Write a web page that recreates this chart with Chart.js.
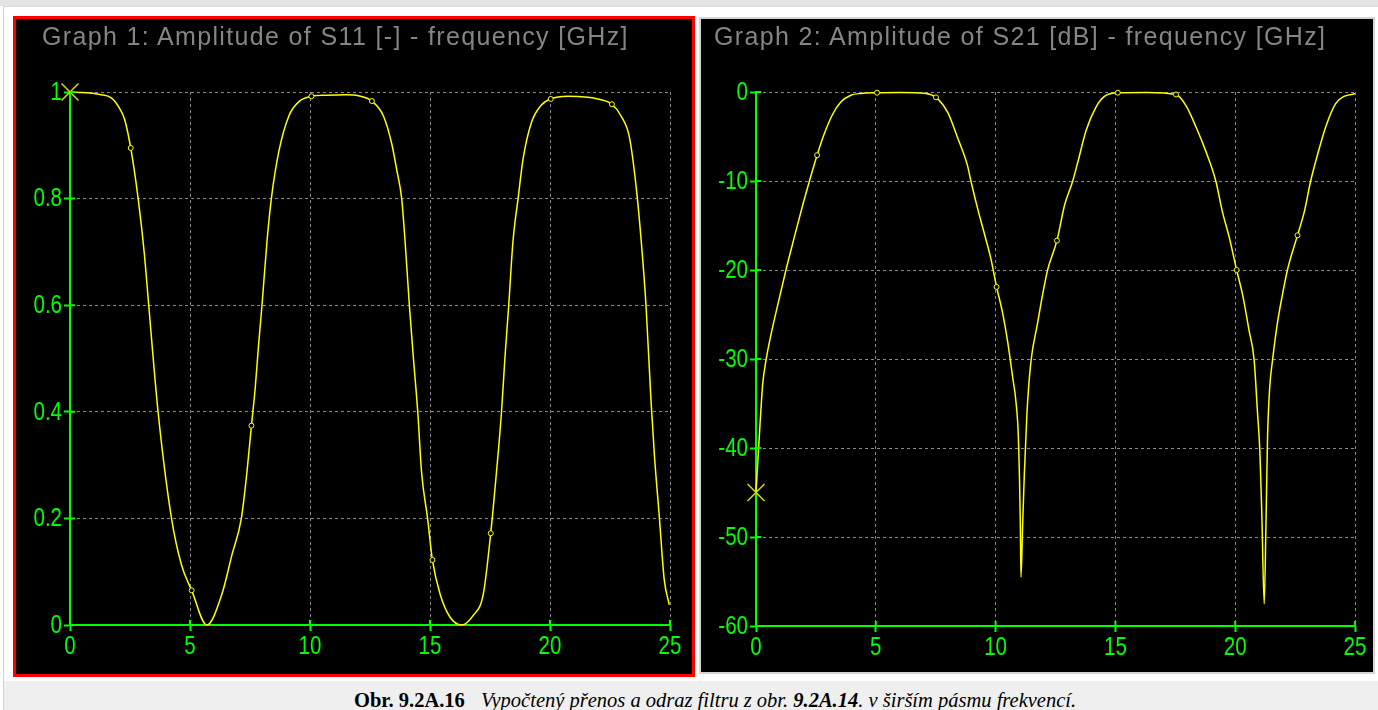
<!DOCTYPE html>
<html>
<head>
<meta charset="utf-8">
<script src="https://cdn.jsdelivr.net/npm/chart.js@4.4.1/dist/chart.umd.min.js"></script>
<style>
  body { margin: 0; width: 1378px; height: 710px; overflow: hidden; background: #fff; position: relative; }
  #topband { position: absolute; left: 0; top: 0; width: 1378px; height: 6px; background: #e4e4e4; }
  #frame { position: absolute; left: 3px; top: 6px; width: 1375px; height: 704px; border-left: 1px solid #d2d2d2; border-top: 1px solid #d8d8d8; background: #fff; }
  #panel1 { position: absolute; left: 13px; top: 16px; width: 676px; height: 655px; border: 3px solid #ff0000; background: #000; }
  #panel2 { position: absolute; left: 699px; top: 17px; width: 672px; height: 653px; border: 2px solid #d4d4d4; background: #000; }
  .title { position: absolute; top: 21px; font: 25px/30px "Liberation Sans", Arial, sans-serif; letter-spacing: 1.35px; color: #858585; white-space: nowrap; }
  #capbg { position: absolute; left: 4px; top: 681px; width: 1374px; height: 29px; background: #efefef; }
  #caption { position: absolute; left: 354px; top: 689px; font: 20.5px/22px "Liberation Serif", "Times New Roman", serif; color: #000; white-space: nowrap; }
  canvas { display: block; }
</style>
</head>
<body>
<div id="topband"></div>
<div id="frame"></div>
<div id="panel1"><canvas id="graph1" width="676" height="655"></canvas></div>
<div id="panel2"><canvas id="graph2" width="672" height="653"></canvas></div>
<div class="title" style="left:42px">Graph 1: Amplitude of S11 [-] - frequency [GHz]</div>
<div class="title" style="left:714px">Graph 2: Amplitude of S21 [dB] - frequency [GHz]</div>
<div id="capbg"></div>
<div id="caption"><b>Obr. 9.2A.16</b><i style="margin-left:16px">Vypočtený přenos a odraz filtru z obr. <b>9.2A.14</b>. v širším pásmu frekvencí.</i></div>

<script>
// Graph 1: |S11| vs frequency
const s11Freq = [0, 1.3, 1.72, 2.07, 2.28, 2.53, 2.84, 3.09, 3.28, 3.67, 4.23, 4.65, 5.07, 5.7, 6.33,
  6.75, 7.14, 7.37, 7.56, 7.72, 7.86, 8.0, 8.21, 8.39, 8.7, 9.12, 9.54, 10.06, 10.66, 11.5,
  12.02, 12.58, 13.06, 13.41, 13.61, 13.82, 13.96, 14.14, 14.31, 14.49, 14.65, 14.9, 15.1, 15.42, 15.83,
  16.32, 16.8, 17.22, 17.53, 17.7, 17.98, 18.12, 18.28, 18.46, 18.67, 18.88, 19.22, 19.63, 20.03, 20.75,
  21.58, 21.99, 22.58, 22.96, 23.31, 23.59, 23.8, 24.0, 24.21, 24.35, 24.56, 24.76, 24.97];
const s11Amp = [1.0, 0.995, 0.989, 0.969, 0.948, 0.895, 0.8, 0.7, 0.6, 0.4, 0.2, 0.112, 0.065, 0.0, 0.058,
  0.132, 0.2, 0.286, 0.374, 0.446, 0.527, 0.6, 0.721, 0.8, 0.888, 0.955, 0.982, 0.992, 0.994, 0.995,
  0.993, 0.983, 0.955, 0.902, 0.855, 0.8, 0.721, 0.6, 0.5, 0.4, 0.286, 0.2, 0.122, 0.058, 0.015,
  0.0, 0.018, 0.058, 0.172, 0.252, 0.4, 0.5, 0.6, 0.721, 0.8, 0.875, 0.942, 0.975, 0.987, 0.992,
  0.99, 0.987, 0.977, 0.955, 0.915, 0.822, 0.721, 0.6, 0.42, 0.319, 0.2, 0.085, 0.038];
const s11MarkFreq = [2.53, 5.07, 7.56, 10.06, 12.58, 15.1, 17.53, 20.03, 22.58];
const s11MarkAmp = [0.895, 0.065, 0.374, 0.992, 0.983, 0.122, 0.172, 0.987, 0.977];

// Graph 2: S21 in dB vs frequency
const s21Freq = [0, 0.1, 0.18, 0.28, 0.42, 0.63, 0.9, 1.25, 1.6, 1.95, 2.23, 2.55, 2.85, 3.2, 3.55,
  3.96, 4.38, 5.05, 6.0, 7.09, 7.51, 8.0, 8.41, 8.83, 8.97, 9.25, 9.53, 9.81, 10.04, 10.29,
  10.5, 10.71, 10.85, 10.95, 11.03, 11.06, 11.13, 11.2, 11.31, 11.47, 11.75, 11.96, 12.17, 12.56, 12.88,
  13.22, 13.43, 13.78, 14.19, 14.54, 15.1, 16.3, 17.53, 17.94, 18.36, 18.78, 19.19, 19.47, 19.75, 20.06,
  20.31, 20.58, 20.79, 20.93, 21.03, 21.11, 21.21, 21.28, 21.35, 21.44, 21.56, 21.76, 21.97, 22.18, 22.6,
  22.88, 23.15, 23.43, 23.78, 24.19, 24.54, 25.0];
const s21Db = [-45, -40.4, -36.8, -32.8, -30.1, -27.2, -24.0, -20, -16.3, -12.7, -10, -7.1, -4.7, -2.5, -1.1,
  -0.36, -0.16, -0.08, -0.05, -0.16, -0.6, -2.3, -5.1, -8.3, -10, -13.1, -15.9, -18.8, -21.9, -24.8,
  -28, -32, -34.8, -38.8, -48.1, -54.5, -48.5, -42.9, -36, -30.4, -26, -22.8, -20, -16.7, -12.7,
  -10, -7.9, -4.3, -1.7, -0.5, -0.08, -0.05, -0.28, -1.5, -3.9, -6.7, -10, -13.5, -16.3, -20,
  -22.8, -26.8, -30.1, -36, -40.4, -47.3, -57.5, -49.3, -38.8, -33.2, -30.1, -26, -22.8, -20, -16.1,
  -13.5, -10, -7.1, -3.9, -1.3, -0.5, -0.2];
const s21MarkFreq = [2.55, 5.05, 7.51, 10.04, 12.56, 15.1, 17.53, 20.06, 22.6];
const s21MarkDb = [-7.1, -0.08, -0.6, -21.9, -16.7, -0.08, -0.28, -20, -16.1];

const GREEN = '#00ff00';
const YELLOW = '#ffff00';
const GRID = '#8a8a8a';

function pts(xs, ys) {
  return xs.map((x, i) => ({ x: x, y: ys[i] }));
}

function fmt(v) {
  return String(Math.round(v * 10) / 10);
}

// narrow green tick labels (Liberation Sans squeezed sideways)
function drawLabel(ctx, text, x, y, align) {
  ctx.save();
  ctx.translate(x, y);
  ctx.scale(0.82, 1);
  ctx.textAlign = align;
  ctx.fillText(text, 0, 0);
  ctx.restore();
}

// tick labels + the part of each tick mark that pokes into the plot
const axisDecor = {
  id: 'axisDecor',
  afterDraw(chart) {
    const ctx = chart.ctx, a = chart.chartArea;
    const sx = chart.scales.x, sy = chart.scales.y;
    ctx.save();
    ctx.strokeStyle = GREEN;
    ctx.lineWidth = 2;
    ctx.beginPath();
    sx.ticks.forEach(t => { const p = sx.getPixelForValue(t.value); ctx.moveTo(p, a.bottom); ctx.lineTo(p, a.bottom - 5); });
    sy.ticks.forEach(t => { const p = sy.getPixelForValue(t.value); ctx.moveTo(a.left, p); ctx.lineTo(a.left + 5, p); });
    ctx.stroke();
    ctx.fillStyle = GREEN;
    ctx.font = '25px "Liberation Sans", Arial, sans-serif';
    ctx.textBaseline = 'middle';
    sx.ticks.forEach(t => drawLabel(ctx, fmt(t.value), sx.getPixelForValue(t.value), a.bottom + 22, 'center'));
    sy.ticks.forEach(t => drawLabel(ctx, fmt(t.value), a.left - 8, sy.getPixelForValue(t.value) + 1, 'right'));
    ctx.restore();
  }
};

function gridColor(c) {
  return c.index === 0 ? 'rgba(0,0,0,0)' : GRID;
}

function makeChart(id, xs, ys, mx, my, yMin, yMax, yStep, yWidth, padRight, xHeight) {
  return new Chart(document.getElementById(id), {
    type: 'line',
    data: {
      datasets: [
        {
          data: [{ x: xs[0], y: ys[0] }],
          showLine: false,
          pointStyle: 'crossRot',
          pointRadius: 12,
          pointBorderWidth: 1.5,
          pointBorderColor: '#d8d800',
          clip: false
        },
        {
          data: pts(mx, my),
          showLine: false,
          pointRadius: 2.5,
          pointBorderWidth: 1,
          pointBorderColor: YELLOW,
          pointBackgroundColor: '#000',
          clip: false
        },
        {
          data: pts(xs, ys),
          borderColor: YELLOW,
          borderWidth: 1.5,
          pointRadius: 0,
          cubicInterpolationMode: 'monotone',
          clip: false
        }
      ]
    },
    options: {
      responsive: false,
      animation: false,
      devicePixelRatio: 1,
      layout: { padding: { left: 0, right: padRight, top: 73, bottom: 0 } },
      plugins: {
        legend: { display: false },
        tooltip: { enabled: false }
      },
      scales: {
        x: {
          type: 'linear', min: 0, max: 25,
          ticks: { stepSize: 5, display: false },
          grid: { color: gridColor, tickColor: GREEN, tickLength: 6, tickWidth: 2, tickBorderDash: [], borderDash: [3, 3] },
          border: { color: GREEN, width: 2, dash: [3, 3] },
          afterFit: s => { s.height = xHeight; }
        },
        y: {
          type: 'linear', min: yMin, max: yMax,
          ticks: { stepSize: yStep, display: false },
          grid: { color: gridColor, tickColor: GREEN, tickLength: 6, tickWidth: 2, tickBorderDash: [], borderDash: [3, 3] },
          border: { color: GREEN, width: 2, dash: [3, 3] },
          afterFit: s => { s.width = yWidth; }
        }
      }
    },
    plugins: [axisDecor]
  });
}

makeChart('graph1', s11Freq, s11Amp, s11MarkFreq, s11MarkAmp, 0, 1, 0.2, 54, 22, 49);
makeChart('graph2', s21Freq, s21Db, s21MarkFreq, s21MarkDb, -60, 0, 10, 55, 18, 46);
</script>
</body>
</html>
